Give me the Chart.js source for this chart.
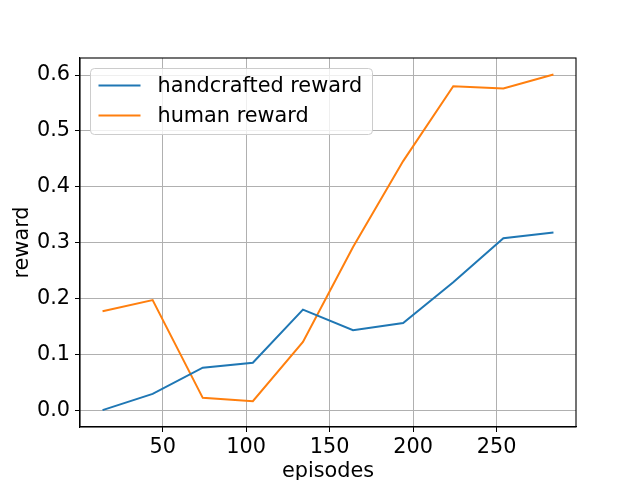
<!DOCTYPE html>
<html lang="en">
<head>
    <meta charset="UTF-8">
    <title>Reward per episode</title>
    <style>
        body {
            margin: 0;
            background-color: #ffffff;
        }
        #wrap {
            width: 640px;
            height: 480px;
        }
    </style>
    <script src="https://cdn.jsdelivr.net/npm/chart.js"></script>
</head>
<body>
    <div id="wrap">
        <canvas id="rewardChart" width="640" height="480"></canvas>
    </div>

    <script>
        // values
        const episodes = [14, 44, 74, 104, 134, 164, 194, 224, 254, 284];
        const handcraftedReward = [0.000, 0.029, 0.076, 0.085, 0.180, 0.143, 0.156, 0.229, 0.308, 0.318];
        const humanReward = [0.177, 0.197, 0.022, 0.016, 0.122, 0.292, 0.446, 0.580, 0.576, 0.601];
        const seriesNames = ['handcrafted reward', 'human reward'];
        const seriesColors = ['#1f77b4', '#ff7f0e'];
        const xTicks = [50, 100, 150, 200, 250];
        const yTicks = [0.0, 0.1, 0.2, 0.3, 0.4, 0.5, 0.6];

        const font = { family: 'DejaVu Sans', size: 20.8 };

        function points(ys) {
            return episodes.map((x, i) => ({ x: x, y: ys[i] }));
        }

        // top and right spines, like matplotlib's box
        const frame = {
            id: 'frame',
            afterDatasetsDraw(chart) {
                const a = chart.chartArea;
                const ctx = chart.ctx;
                ctx.save();
                ctx.strokeStyle = '#000000';
                ctx.lineWidth = 1.1;
                ctx.strokeRect(a.left, a.top, a.right - a.left, a.bottom - a.top);
                ctx.restore();
            }
        };

        // legend box in the upper left corner of the axes
        const boxLegend = {
            id: 'boxLegend',
            afterDraw(chart) {
                const ctx = chart.ctx;
                const a = chart.chartArea;
                const x = a.left + 10.5, y = a.top + 10.5, w = 282, h = 66, r = 4;
                ctx.save();
                ctx.beginPath();
                ctx.roundRect(x, y, w, h, r);
                ctx.fillStyle = 'rgba(255,255,255,0.8)';
                ctx.fill();
                ctx.strokeStyle = '#cccccc';
                ctx.lineWidth = 1;
                ctx.stroke();
                ctx.font = font.size + 'px ' + font.family;
                ctx.textBaseline = 'middle';
                ctx.fillStyle = '#000000';
                chart.data.datasets.forEach((ds, i) => {
                    const cy = y + 17 + i * 30;
                    ctx.beginPath();
                    ctx.moveTo(x + 8, cy);
                    ctx.lineTo(x + 50, cy);
                    ctx.strokeStyle = ds.borderColor;
                    ctx.lineWidth = 2;
                    ctx.stroke();
                    ctx.fillText(ds.label, x + 67, cy + 1);
                });
                ctx.restore();
            }
        };

        new Chart(document.getElementById('rewardChart'), {
            type: 'line',
            data: {
                datasets: [
                    {
                        label: seriesNames[0],
                        data: points(handcraftedReward),
                        borderColor: seriesColors[0],
                        borderWidth: 2,
                        pointRadius: 0,
                        fill: false
                    },
                    {
                        label: seriesNames[1],
                        data: points(humanReward),
                        borderColor: seriesColors[1],
                        borderWidth: 2,
                        pointRadius: 0,
                        fill: false
                    }
                ]
            },
            options: {
                responsive: false,
                animation: false,
                layout: { padding: { top: 58, right: 64, left: 0, bottom: 0 } },
                plugins: {
                    legend: { display: false },
                    tooltip: { enabled: false }
                },
                scales: {
                    x: {
                        type: 'linear',
                        min: 0.5,
                        max: 297.5,
                        afterBuildTicks: (s) => { s.ticks = xTicks.map(v => ({ value: v })); },
                        afterFit: (s) => { s.height = 53; },
                        grid: { color: '#b0b0b0', lineWidth: 1, tickColor: '#000000', tickLength: 5 },
                        border: { color: '#000000', width: 1.1 },
                        ticks: { font: font, color: '#000000', padding: 3, maxRotation: 0 },
                        title: {
                            display: true,
                            text: 'episodes',
                            font: { family: font.family, size: 20.8, lineHeight: 1 },
                            color: '#000000',
                            padding: { top: 0, bottom: -2 }
                        }
                    },
                    y: {
                        min: -0.0302,
                        max: 0.6306,
                        afterBuildTicks: (s) => { s.ticks = yTicks.map(v => ({ value: v })); },
                        afterFit: (s) => { s.width = 80; },
                        grid: { color: '#b0b0b0', lineWidth: 1, tickColor: '#000000', tickLength: 5 },
                        border: { color: '#000000', width: 1.1 },
                        ticks: {
                            font: font,
                            color: '#000000',
                            padding: 5,
                            callback: (v) => v.toFixed(1)
                        },
                        title: {
                            display: true,
                            text: 'reward',
                            font: { family: font.family, size: 20.8, lineHeight: 1 },
                            color: '#000000',
                            padding: { top: 12, bottom: 0 }
                        }
                    }
                }
            },
            plugins: [frame, boxLegend]
        });
    </script>
</body>
</html>
